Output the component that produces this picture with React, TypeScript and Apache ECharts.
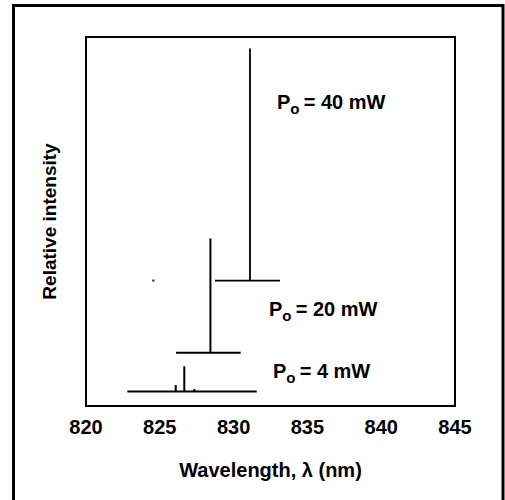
import React, { useEffect, useRef } from "react";
import * as echarts from "echarts";

// X axis ticks (nm)
const xTicks = [820, 825, 830, 835, 840, 845];

// Spectrum at Po = 4 mW (wavelength nm, relative intensity)
const p4Wavelength = [822.8, 826.08, 826.08, 826.08, 826.66, 826.66, 826.66, 827.34, 827.34, 827.34, 831.57];
const p4Intensity = [3.9, 3.9, 5.7, 3.9, 3.9, 10.8, 3.9, 3.9, 4.6, 3.9, 3.9];

// Spectrum at Po = 20 mW
const p20Wavelength = [826.1, 828.43, 828.43, 828.43, 830.48];
const p20Intensity = [14.4, 14.4, 45.4, 14.4, 14.4];

// Spectrum at Po = 40 mW
const p40Wavelength = [828.74, 831.11, 831.11, 831.11, 833.14];
const p40Intensity = [34.0, 34.0, 96.9, 34.0, 34.0];

// Stray dot in the plot
const dotWavelength = [824.56];
const dotIntensity = [34.0];

const seriesLabels = ["40 mW", "20 mW", "4 mW"];

const FONT = "'Liberation Sans', Arial, Helvetica, sans-serif";

const zip = (xs: number[], ys: number[]) => xs.map((x, i) => [x, ys[i]]);

const richStyle = {
  a: { fontSize: 20, fontWeight: "bold", fontFamily: FONT, color: "#000", lineHeight: 24, verticalAlign: "top" },
  b: { fontSize: 15, fontWeight: "bold", fontFamily: FONT, color: "#000", lineHeight: 14, verticalAlign: "bottom" },
};

function label(text: string, x: number, y: number) {
  return {
    type: "text",
    x,
    y,
    style: {
      text: `{a|P}{b|o }{a|= ${text}}`,
      rich: richStyle,
      verticalAlign: "middle",
      align: "left",
    },
  };
}

export default function App() {
  const ref = useRef<HTMLDivElement>(null);

  useEffect(() => {
    if (!ref.current) return;
    const chart = echarts.init(ref.current, undefined, { renderer: "svg" });
    const lineStyle = { color: "#000", width: 2 };
    chart.setOption({
      animation: false,
      backgroundColor: "#fff",
      grid: {
        left: 86,
        right: 50,
        top: 37,
        bottom: 94,
        show: true,
        borderColor: "#000",
        borderWidth: 2,
        backgroundColor: "transparent",
      },
      xAxis: {
        type: "value",
        min: xTicks[0],
        max: xTicks[xTicks.length - 1],
        interval: 5,
        axisLine: { show: false },
        axisTick: { show: false },
        splitLine: { show: false },
        axisLabel: {
          color: "#000",
          fontSize: 20,
          fontWeight: "bold",
          fontFamily: FONT,
          margin: 11,
        },
        name: "Wavelength, λ (nm)",
        nameLocation: "middle",
        nameGap: 54,
        nameTextStyle: { color: "#000", fontSize: 20, fontWeight: "bold", fontFamily: FONT },
      },
      yAxis: {
        type: "value",
        min: 0,
        max: 100,
        axisLine: { show: false },
        axisTick: { show: false },
        splitLine: { show: false },
        axisLabel: { show: false },
        name: "Relative intensity",
        nameLocation: "middle",
        nameGap: 27,
        nameRotate: 90,
        nameTextStyle: { color: "#000", fontSize: 19, fontWeight: "bold", fontFamily: FONT },
      },
      series: [
        { type: "line", data: zip(p4Wavelength, p4Intensity), showSymbol: false, lineStyle, silent: true },
        { type: "line", data: zip(p20Wavelength, p20Intensity), showSymbol: false, lineStyle, silent: true },
        { type: "line", data: zip(p40Wavelength, p40Intensity), showSymbol: false, lineStyle: { color: "#000", width: 1.8 }, silent: true },
        {
          type: "scatter",
          data: zip(dotWavelength, dotIntensity),
          symbolSize: 2.5,
          itemStyle: { color: "#000" },
          silent: true,
        },
      ],
      graphic: [
        {
          type: "rect",
          shape: { x: 13.5, y: 5.5, width: 489.5, height: 505 },
          style: { fill: "none", stroke: "#000", lineWidth: 3 },
          silent: true,
        },
        label(seriesLabels[0], 277, 104),
        label(seriesLabels[1], 269, 311),
        label(seriesLabels[2], 273, 373),
      ],
    });
    return () => chart.dispose();
  }, []);

  return (
    <div
      ref={ref}
      style={{ position: "fixed", left: 0, top: 0, width: 505, height: 500, background: "#fff" }}
    />
  );
}
